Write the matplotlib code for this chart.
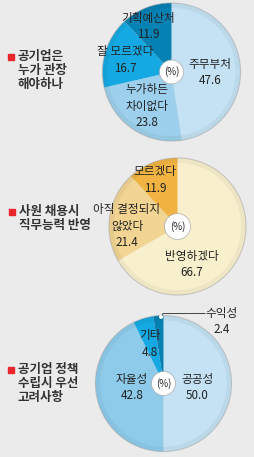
import matplotlib.pyplot as plt
from matplotlib.patches import Circle, Rectangle

plt.rcParams['font.family'] = ['Noto Sans CJK KR', 'DejaVu Sans']

W, H = 254, 457

# data
titles = [["공기업은", "누가 관장", "해야하나"],
          ["사원 채용시", "직무능력 반영"],
          ["공기업 정책", "수립시 우선", "고려사항"]]

labels1 = ["주무부처", "누가하든\n차이없다", "잘 모르겠다", "기획예산처"]
values1 = [47.6, 23.8, 16.7, 11.9]
colors1 = ["#c4e2f4", "#9dd0ec", "#14a9e2", "#0681b4"]

labels2 = ["반영하겠다", "아직 결정되지\n않았다", "모르겠다"]
values2 = [66.7, 21.4, 11.9]
colors2 = ["#f8f0cc", "#f2d593", "#f1b443"]

labels3 = ["공공성", "자율성", "기타", "수익성"]
values3 = [50.0, 42.8, 4.8, 2.4]
colors3 = ["#c4e2f4", "#8ecbeb", "#14a9e2", "#0681b4"]

fig = plt.figure(figsize=(W / 100, H / 100), dpi=100)
fig.patch.set_facecolor("#ebebeb")
ax = fig.add_axes([0, 0, 1, 1])


def Y(y):
    return H - y


def draw_pie(values, colors, cx, cy, r, hole):
    ax.pie(values, colors=colors, center=(cx, Y(cy)), radius=r,
           startangle=90, counterclock=False,
           wedgeprops=dict(linewidth=0), frame=True)
    ax.add_patch(Circle((cx, Y(cy)), r - 2, fill=False, lw=4,
                        ec="black", alpha=0.045))
    ax.add_patch(Circle((cx, Y(cy)), r, fill=False, lw=0.6,
                        ec="#9a9a9a", alpha=0.5))
    ax.add_patch(Circle((cx, Y(cy)), hole, fc="white", ec="#aaaaaa", lw=0.5))
    ax.text(cx, Y(cy), "(%)", ha="center", va="center", fontsize=7,
            color="#222222")


def label(x, y, text, val):
    # y is the centre of the whole text block
    ax.text(x, Y(y), text + "\n" + f"{val:.1f}", ha="center", va="center",
            fontsize=8.4, color="#222222", linespacing=1.3)


def title(x, y, lines):
    ax.add_patch(Rectangle((x - 10, Y(y) - 3), 6, 6, color="#e8262b"))
    ax.text(x, Y(y) + 7, "\n".join(lines), ha="left", va="top",
            fontsize=9, fontweight="bold", color="#333333",
            linespacing=1.1)


# pie 1
draw_pie(values1, colors1, 171.5, 72, 69, 12)
label(210, 72.5, labels1[0], values1[0])
label(147, 106, labels1[1], values1[1])
label(125, 60, labels1[2], values1[2])
label(148, 26.5, labels1[3], values1[3])
title(18, 57, titles[0])

# pie 2
draw_pie(values2, colors2, 177.5, 226.5, 68.5, 13)
label(192, 264.5, labels2[0], values2[0])
label(127, 226, labels2[1], values2[1])
label(155, 180, labels2[2], values2[2])
title(19, 212, titles[1])

# pie 3
draw_pie(values3, colors3, 163.5, 383.5, 68, 12)
label(197, 387.5, labels3[0], values3[0])
label(132, 387.5, labels3[1], values3[1])
label(150, 344, labels3[2], values3[2])
label(222, 321.5, labels3[3], values3[3])
ax.plot([161, 163, 205], [Y(317), Y(313.5), Y(313.5)], color="#444444", lw=0.7)
ax.add_patch(Circle((161, Y(317)), 2, fc="white", ec="none", zorder=5))
title(18, 370, titles[2])

ax.set_xlim(0, W)
ax.set_ylim(0, H)
ax.set_aspect("equal")
ax.axis("off")

fig.savefig("out.png", dpi=100, facecolor=fig.get_facecolor())
